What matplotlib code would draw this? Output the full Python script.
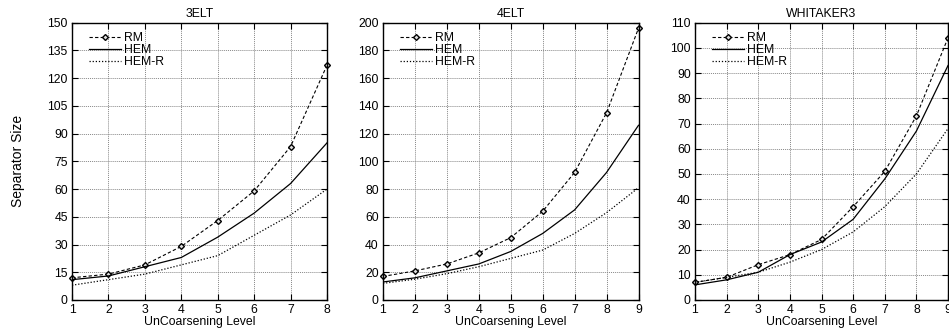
import matplotlib
matplotlib.use("Agg")
import matplotlib.pyplot as plt
import numpy as np

plt.rcParams['font.family'] = ['Liberation Sans', 'DejaVu Sans']

titles = ["3ELT", "4ELT", "WHITAKER3"]

levels_3elt = [1, 2, 3, 4, 5, 6, 7, 8]
rm_3elt = [12, 14, 19, 29, 43, 59, 83, 127]
hem_3elt = [11, 13, 18, 23, 34, 47, 63, 85]
hemr_3elt = [8, 11, 14, 19, 24, 35, 46, 60]

levels_4elt = [1, 2, 3, 4, 5, 6, 7, 8, 9]
rm_4elt = [17, 21, 26, 34, 45, 64, 92, 135, 196]
hem_4elt = [13, 16, 21, 26, 35, 48, 65, 92, 126]
hemr_4elt = [12, 15, 19, 24, 30, 36, 48, 63, 81]

levels_wh = [1, 2, 3, 4, 5, 6, 7, 8, 9]
rm_wh = [7, 9, 14, 18, 24, 37, 51, 73, 104]
hem_wh = [6, 8, 11, 18, 23, 32, 48, 67, 93]
hemr_wh = [7, 9, 11, 15, 20, 27, 37, 50, 68]

yticks_list = [list(range(0, 151, 15)), list(range(0, 201, 20)), list(range(0, 111, 10))]

data = [
    (levels_3elt, rm_3elt, hem_3elt, hemr_3elt),
    (levels_4elt, rm_4elt, hem_4elt, hemr_4elt),
    (levels_wh, rm_wh, hem_wh, hemr_wh),
]

W, H = 949, 328
fig = plt.figure(figsize=(W / 100, H / 100), dpi=100)

lefts = [72, 383, 695]
rights = [327, 638.5, 948]
top_px, bot_px = 22.7, 300

fs = 8.8
for i in range(3):
    l, r = lefts[i], rights[i]
    ax = fig.add_axes([l / W, 1 - bot_px / H, (r - l) / W, (bot_px - top_px) / H])
    x, rm, hem, hemr = data[i]
    ax.plot(x, rm, color='black', linestyle=(0, (3, 2)), linewidth=0.8,
            marker='D', markersize=3, markerfacecolor='#dddddd', markeredgecolor='black',
            markeredgewidth=1.0, label='RM', clip_on=False)
    ax.plot(x, hem, color='black', linestyle='-', linewidth=0.9, label='HEM')
    ax.plot(x, hemr, color='black', linestyle=(0, (1, 1.5)), linewidth=0.9, label='HEM-R')
    yt = yticks_list[i]
    ax.set_xlim(x[0], x[-1])
    ax.set_ylim(yt[0], yt[-1])
    ax.set_xticks(x)
    ax.set_yticks(yt)
    ax.grid(True, color='#888888', linestyle=(0, (1, 1)), linewidth=0.7)
    ax.tick_params(direction='in', top=True, right=True, length=4, width=0.8,
                   labelsize=fs, pad=3)
    for sp in ax.spines.values():
        sp.set_linewidth(1.0)
        sp.set_color('black')
    ax.set_title(titles[i], fontsize=fs, pad=4)
    ax.set_xlabel("UnCoarsening Level", fontsize=fs, labelpad=0)
    if i == 0:
        ax.set_ylabel("Separator Size", fontsize=10, labelpad=16)
    ax_w = r - l
    leg = ax.legend(loc='upper left', frameon=False, fontsize=fs, labelspacing=0.0,
                    handlelength=2.6, handletextpad=0.3, borderaxespad=0.0,
                    borderpad=0.0, bbox_to_anchor=(17 / ax_w, 0.965))

fig.savefig("out.png", dpi=100)
